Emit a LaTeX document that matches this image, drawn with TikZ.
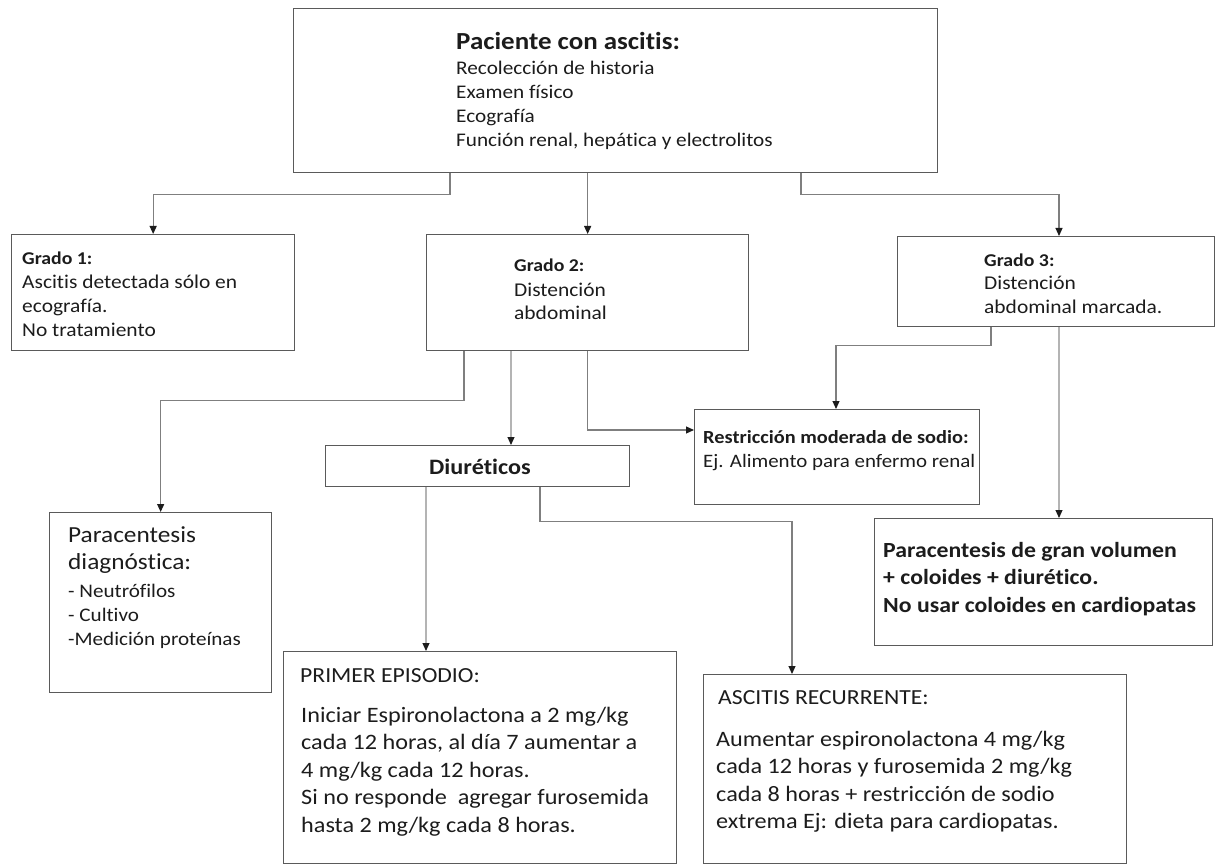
\documentclass[tikz,border=0pt]{standalone}
\usepackage{fontspec}
\setmainfont{Carlito}[FakeStretch=1.1, Ligatures=CommonOff]
\usetikzlibrary{arrows.meta}

\definecolor{ink}{HTML}{1C1C1C}
\definecolor{edge}{HTML}{5A5A5A}
\definecolor{wire}{HTML}{7F7F7F}
\definecolor{wirelight}{HTML}{B4B4B4}

\newcommand{\fs}[2]{\fontsize{#1}{#2}\selectfont}

\begin{document}
\begin{tikzpicture}[x=1pt, y=-1pt, >={Triangle[length=8pt,width=7pt,color=ink]},
    box/.style={draw=edge, line width=1.3pt, inner sep=0pt, anchor=north west},
    txt/.style={anchor=base west, align=left, inner sep=0pt, text=ink},
    link/.style={draw=wire, line width=1.1pt, ->},
    faint/.style={draw=wirelight} ]
    \useasboundingbox (0,0) rectangle (1215,866);

    % Boxes
    \node[box, minimum width=644pt, minimum height=164pt] (top) at (293,8) {};
    \node[box, minimum width=283pt, minimum height=116pt] (g1) at (11,234) {};
    \node[box, minimum width=322pt, minimum height=116pt] (g2) at (426,234) {};
    \node[box, minimum width=317pt, minimum height=90pt] (g3) at (897,236) {};
    \node[box, minimum width=304pt, minimum height=41pt] (diur) at (325,445) {};
    \node[box, minimum width=285pt, minimum height=95pt] (rest) at (694,409) {};
    \node[box, minimum width=222pt, minimum height=180pt] (pdx) at (49,512) {};
    \node[box, minimum width=338pt, minimum height=127pt] (pgv) at (874,518) {};
    \node[box, minimum width=393pt, minimum height=212pt] (ep1) at (283,651) {};
    \node[box, minimum width=423pt, minimum height=189pt] (rec) at (703,674) {};

    % Texts (multi-line nodes sit on the baseline of their last line)
    \node[txt, font=\bfseries\fs{24.5}{26}] (title) at (456,50) {Paciente con ascitis:};
    \node[txt, font=\fs{19.3}{24}] (exams) at (456,147) {Recolección de historia\\Examen físico\\Ecografía\\Función renal, hepática y electrolitos};

    \node[txt, font=\bfseries\fs{18}{24}] (g1head) at (22,265) {Grado 1:};
    \node[txt, font=\fs{19.5}{24}] (g1body) at (22,337) {Ascitis detectada sólo en\\ecografía.\\No tratamiento};
    \node[txt, font=\bfseries\fs{18}{24}] (g2head) at (514,272) {Grado 2:};
    \node[txt, font=\fs{19.5}{24}] (g2body) at (514,320) {Distención\\abdominal};
    \node[txt, font=\bfseries\fs{18}{24}] (g3head) at (984,267) {Grado 3:};
    \node[txt, font=\fs{19.5}{24}] (g3body) at (984,314) {Distención\\abdominal marcada.};

    \node[txt, anchor=base, font=\bfseries\fs{22}{24}] (diurtxt) at (480,474) {Diuréticos};
    \node[txt, font=\bfseries\fs{18.5}{24}] (resthead) at (703,443) {Restricción moderada de sodio:};
    \node[txt, font=\fs{19}{24}] (restbody) at (703,467) {Ej. Alimento para enfermo renal};

    \node[txt, font=\fs{23}{27}] (pdxhead) at (68,569) {Paracentesis\\diagnóstica:};
    \node[txt, font=\fs{19.2}{24}] (pdxbody) at (68,645) {- Neutrófilos\\- Cultivo\\-Medición proteínas};

    \node[txt, font=\bfseries\fs{21.6}{27.5}] (pgvtxt) at (883,612) {Paracentesis de gran volumen\\+ coloides + diurético.\\No usar coloides en cardiopatas};

    \node[txt, font=\fs{21.5}{27.5}] (ep1head) at (300,682) {PRIMER EPISODIO:};
    \node[txt, font=\fs{22}{27.5}] (ep1body) at (301,832) {Iniciar Espironolactona a 2 mg/kg\\cada 12 horas, al día 7 aumentar a\\4 mg/kg cada 12 horas.\\Si no responde\ \ agregar furosemida\\hasta 2 mg/kg cada 8 horas.};

    \node[txt, font=\fs{21.5}{27.5}] (rechead) at (718,704) {ASCITIS RECURRENTE:};
    \node[txt, font=\fs{22}{27.5}] (recbody) at (716,828.5) {Aumentar espironolactona 4 mg/kg\\cada 12 horas y furosemida 2 mg/kg\\cada 8 horas + restricción de sodio\\extrema Ej: dieta para cardiopatas.};

    % Connectors
    \draw[link] (top.south -| 450,0) -- ++(0,21) -| (g1.north);
    \draw[link] (top.south -| g2.north) -- (g2.north);
    \draw[link] (top.south -| 801,0) -- ++(0,21) -| (g3.north -| 1059,0);

    \draw[link] (g2.south -| 464,0) -- ++(0,49) -| (pdx.north);
    \draw[link, faint] (g2.south -| 511,0) -- (diur.north -| 511,0);
    \draw[link] (g2.south) |- (rest.west |- 0,430);

    \draw[link] (g3.south -| 991,0) -- ++(0,18) -| (rest.north -| 836,0);
    \draw[link, faint] (g3.south -| 1059,0) -- (pgv.north -| 1059,0);

    \draw[link, faint] (diur.south -| 426,0) -- (ep1.north -| 426,0);
    \draw[link] (diur.south -| 540,0) -- ++(0,34) -| (rec.north -| 792,0);
\end{tikzpicture}
\end{document}
